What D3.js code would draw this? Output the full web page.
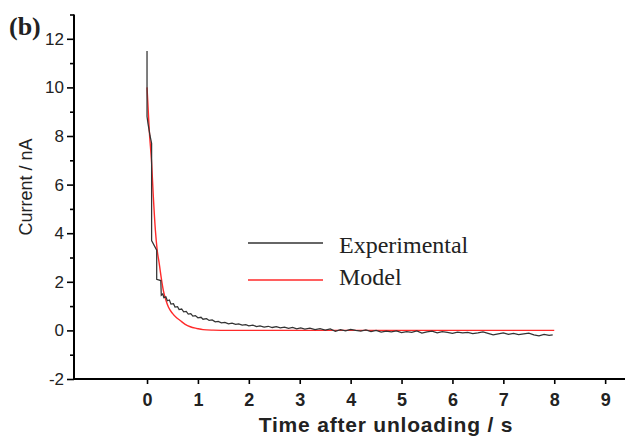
<!DOCTYPE html>
<html>
<head>
<meta charset="utf-8">
<script src="https://cdn.jsdelivr.net/npm/d3@7"></script>
<style>
  html, body { margin: 0; padding: 0; background: #fff; }
  svg { display: block; }
</style>
</head>
<body>
<svg id="chart" width="625" height="439"></svg>
<script>
// Measured current decay after unloading: [time (s), current (nA)]
const experimental = [
  [0, 11.5], [0, 8.8], [0.02, 8.5], [0.06, 8.0], [0.09, 7.7], [0.09, 3.7],
  [0.19, 3.3], [0.19, 2.1], [0.27, 2.05], [0.28, 1.45], [0.31, 1.5], [0.33, 1.35],
  [0.37, 1.38], [0.40, 1.22], [0.44, 1.25], [0.47, 1.08], [0.52, 1.1], [0.55, 0.96],
  [0.6, 0.98], [0.63, 0.86], [0.68, 0.88], [0.72, 0.76], [0.77, 0.78], [0.81, 0.67],
  [0.86, 0.69], [0.9, 0.59], [0.95, 0.61], [1.0, 0.52], [1.06, 0.54], [1.1, 0.46],
  [1.17, 0.48], [1.22, 0.41], [1.28, 0.43], [1.34, 0.35], [1.4, 0.37], [1.46, 0.31],
  [1.53, 0.33], [1.6, 0.27], [1.67, 0.3], [1.74, 0.25], [1.8, 0.27], [1.87, 0.22],
  [1.94, 0.24], [2.0, 0.19], [2.08, 0.22], [2.15, 0.16], [2.22, 0.19], [2.3, 0.14],
  [2.38, 0.17], [2.46, 0.12], [2.54, 0.15], [2.62, 0.1], [2.7, 0.13], [2.78, 0.08],
  [2.86, 0.12], [2.94, 0.06], [3.02, 0.1], [3.1, 0.05], [3.2, 0.09], [3.3, 0.03],
  [3.4, 0.07], [3.5, 0.01], [3.6, 0.06], [3.7, -0.04], [3.8, 0.03], [3.9, -0.02],
  [4.0, 0.04], [4.1, 0.0], [4.2, -0.03], [4.3, 0.02], [4.4, -0.05], [4.5, 0.0],
  [4.6, -0.07], [4.7, -0.03], [4.8, -0.06], [4.9, -0.02], [5.0, -0.09], [5.1, -0.05],
  [5.2, -0.08], [5.3, -0.02], [5.4, -0.11], [5.5, -0.06], [5.6, -0.03], [5.7, -0.1],
  [5.8, -0.05], [5.9, -0.08], [6.0, -0.12], [6.1, -0.07], [6.2, -0.1], [6.3, -0.08],
  [6.4, -0.13], [6.5, -0.1], [6.6, -0.06], [6.7, -0.12], [6.8, -0.18], [6.9, -0.14],
  [7.0, -0.1], [7.1, -0.16], [7.2, -0.12], [7.3, -0.17], [7.4, -0.14], [7.5, -0.11],
  [7.6, -0.18], [7.7, -0.22], [7.8, -0.16], [7.9, -0.2], [7.97, -0.18]
];

// Model prediction: [time (s), current (nA)]
const model = [
  [0, 10], [0.045, 8.2], [0.09, 6.9], [0.124, 5.5], [0.165, 4.1], [0.2, 3.3],
  [0.24, 2.75], [0.28, 2.15], [0.32, 1.65], [0.37, 1.25], [0.42, 0.96], [0.5, 0.7],
  [0.58, 0.52], [0.65, 0.41], [0.75, 0.25], [0.85, 0.15], [0.98, 0.08], [1.1, 0.03],
  [1.3, 0.01], [1.6, 0], [8, 0]
];

const xTicks = [0, 1, 2, 3, 4, 5, 6, 7, 8, 9];
const yTicks = [-2, 0, 2, 4, 6, 8, 10, 12];
const yMinorTicks = [-1, 1, 3, 5, 7, 9, 11, 13];

const legendItems = [
  { label: "Experimental", color: "#333333", textY: 253 },
  { label: "Model", color: "#ff2a2a", textY: 285 }
];

const svg = d3.select("#chart");

const x = d3.scaleLinear().domain([-1.415, 9.39]).range([75, 625]);
const y = d3.scaleLinear().domain([-2, 13]).range([379, 14.5]);

// Plain hyphen for negative tick labels
const intFmt = d => String(d);

// Data lines (drawn first, axes on top)
svg.append("path")
  .datum(model)
  .attr("d", d3.line().x(d => x(d[0])).y(d => y(d[1])).curve(d3.curveMonotoneX))
  .attr("fill", "none")
  .attr("stroke", legendItems[1].color)
  .attr("stroke-width", 1.4);

svg.append("path")
  .datum(experimental)
  .attr("d", d3.line().x(d => x(d[0])).y(d => y(d[1])))
  .attr("fill", "none")
  .attr("stroke", legendItems[0].color)
  .attr("stroke-width", 1.25);

// Y axis
const yAxis = svg.append("g")
  .attr("transform", `translate(${x.range()[0] - 1},0)`)
  .call(d3.axisLeft(y).tickValues(yTicks).tickSize(7).tickPadding(3).tickFormat(intFmt));
yAxis.select(".domain").attr("d", `M0,${y(13)}V${y(-2)}`).attr("stroke-width", 2);
yAxis.selectAll(".tick line").attr("stroke-width", 1.6);
yAxis.selectAll(".tick text")
  .attr("font-family", "Liberation Sans, Arial, sans-serif")
  .attr("font-size", 17)
  .attr("fill", "#222");

const yMinor = svg.append("g")
  .attr("transform", `translate(${x.range()[0] - 1},0)`)
  .call(d3.axisLeft(y).tickValues(yMinorTicks).tickSize(4).tickFormat(""));
yMinor.select(".domain").remove();
yMinor.selectAll(".tick line").attr("stroke-width", 1.6);

// X axis
const xAxis = svg.append("g")
  .attr("transform", `translate(0,${y(-2)})`)
  .call(d3.axisBottom(x).tickValues(xTicks).tickSize(5).tickPadding(9).tickFormat(intFmt));
xAxis.select(".domain").attr("d", `M${x.range()[0] - 2},0H625`).attr("stroke-width", 2);
xAxis.selectAll(".tick line").attr("stroke-width", 1.6);
xAxis.selectAll(".tick text")
  .attr("font-family", "Liberation Sans, Arial, sans-serif")
  .attr("font-size", 18)
  .attr("font-weight", "bold")
  .attr("fill", "#222");

// Axis titles
svg.append("text")
  .attr("transform", `translate(32,187) rotate(-90)`)
  .attr("text-anchor", "middle")
  .attr("font-family", "Liberation Sans, Arial, sans-serif")
  .attr("font-size", 18)
  .attr("fill", "#222")
  .text("Current / nA");

svg.append("text")
  .attr("x", 386)
  .attr("y", 432)
  .attr("text-anchor", "middle")
  .attr("font-family", "Liberation Sans, Arial, sans-serif")
  .attr("font-size", 21)
  .attr("font-weight", "bold")
  .attr("letter-spacing", 0.8)
  .attr("fill", "#222")
  .text("Time after unloading / s");

// Panel label
svg.append("text")
  .attr("x", 9)
  .attr("y", 35)
  .attr("font-family", "Liberation Serif, Times New Roman, serif")
  .attr("font-size", 26)
  .attr("font-weight", "bold")
  .attr("fill", "#222")
  .text("(b)");

// Legend
legendItems.forEach((item, i) => {
  const ly = 243 + i * 37;
  svg.append("line")
    .attr("x1", 248).attr("x2", 323)
    .attr("y1", ly).attr("y2", ly)
    .attr("stroke", item.color)
    .attr("stroke-width", 1.6);
  svg.append("text")
    .attr("x", 339)
    .attr("y", item.textY)
    .attr("font-family", "Liberation Serif, Times New Roman, serif")
    .attr("font-size", 24)
    .attr("fill", "#222")
    .text(item.label);
});
</script>
</body>
</html>
